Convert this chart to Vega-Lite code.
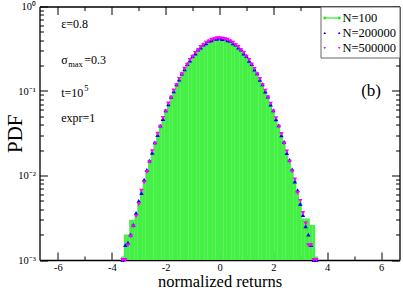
{
  "$schema": "https://vega.github.io/schema/vega-lite/v6.json",
  "width": 360,
  "height": 253.5,
  "autosize": {"type": "none"},
  "padding": {"left": 39.5, "top": 6.5, "right": 3.5, "bottom": 30},
  "background": "white",
  "config": {
    "view": {"stroke": null},
    "axis": {
      "labelFont": "Liberation Serif",
      "titleFont": "Liberation Serif",
      "titleFontWeight": "normal",
      "labelColor": "black",
      "titleColor": "black",
      "domainColor": "black",
      "tickColor": "black",
      "domainWidth": 1.3,
      "tickWidth": 1,
      "grid": false
    },
    "text": {"font": "Liberation Serif", "color": "black"}
  },
  "data": {
    "values": [
      {"x": -3.6, "g": 0.0011, "b": 0.0010, "m": 0.0010},
      {"x": -3.5, "g": 0.0020, "b": 0.0015, "m": 0.0010},
      {"x": -3.4, "g": 0.0020, "b": 0.0016, "m": 0.0015},
      {"x": -3.3, "g": 0.0030, "b": 0.0020, "m": 0.0019},
      {"x": -3.2, "g": 0.0030, "b": 0.0026, "m": 0.0025},
      {"x": -3.1, "g": 0.0036, "b": 0.0036, "m": 0.0033},
      {"x": -3.0, "g": 0.0049, "b": 0.0050, "m": 0.0046},
      {"x": -2.9, "g": 0.0066, "b": 0.0062, "m": 0.0066},
      {"x": -2.8, "g": 0.0086, "b": 0.0089, "m": 0.0083},
      {"x": -2.7, "g": 0.0113, "b": 0.0116, "m": 0.0110},
      {"x": -2.6, "g": 0.0147, "b": 0.0150, "m": 0.0145},
      {"x": -2.5, "g": 0.0191, "b": 0.0186, "m": 0.0194},
      {"x": -2.4, "g": 0.0242, "b": 0.0247, "m": 0.0238},
      {"x": -2.3, "g": 0.0307, "b": 0.0300, "m": 0.0312},
      {"x": -2.2, "g": 0.0380, "b": 0.0389, "m": 0.0377},
      {"x": -2.1, "g": 0.0475, "b": 0.0466, "m": 0.0480},
      {"x": -2.0, "g": 0.0578, "b": 0.0589, "m": 0.0572},
      {"x": -1.9, "g": 0.0705, "b": 0.0694, "m": 0.0712},
      {"x": -1.8, "g": 0.0842, "b": 0.0856, "m": 0.0836},
      {"x": -1.7, "g": 0.1007, "b": 0.0990, "m": 0.1015},
      {"x": -1.6, "g": 0.1178, "b": 0.1196, "m": 0.1170},
      {"x": -1.5, "g": 0.1382, "b": 0.1365, "m": 0.1391},
      {"x": -1.4, "g": 0.1588, "b": 0.1610, "m": 0.1580},
      {"x": -1.3, "g": 0.1822, "b": 0.1800, "m": 0.1835},
      {"x": -1.2, "g": 0.2058, "b": 0.2085, "m": 0.2046},
      {"x": -1.1, "g": 0.2312, "b": 0.2285, "m": 0.2330},
      {"x": -1.0, "g": 0.2557, "b": 0.2590, "m": 0.2545},
      {"x": -0.9, "g": 0.2812, "b": 0.2780, "m": 0.2830},
      {"x": -0.8, "g": 0.3058, "b": 0.3095, "m": 0.3040},
      {"x": -0.7, "g": 0.3302, "b": 0.3265, "m": 0.3320},
      {"x": -0.6, "g": 0.3508, "b": 0.3550, "m": 0.3490},
      {"x": -0.5, "g": 0.3712, "b": 0.3670, "m": 0.3735},
      {"x": -0.4, "g": 0.3878, "b": 0.3925, "m": 0.3860},
      {"x": -0.3, "g": 0.4022, "b": 0.3975, "m": 0.4045},
      {"x": -0.2, "g": 0.4108, "b": 0.4160, "m": 0.4090},
      {"x": -0.1, "g": 0.4182, "b": 0.4135, "m": 0.4205},
      {"x": 0.0, "g": 0.4198, "b": 0.4250, "m": 0.4180},
      {"x": 0.1, "g": 0.4178, "b": 0.4130, "m": 0.4200},
      {"x": 0.2, "g": 0.4112, "b": 0.4165, "m": 0.4095},
      {"x": 0.3, "g": 0.4018, "b": 0.3970, "m": 0.4040},
      {"x": 0.4, "g": 0.3882, "b": 0.3930, "m": 0.3865},
      {"x": 0.5, "g": 0.3708, "b": 0.3665, "m": 0.3730},
      {"x": 0.6, "g": 0.3512, "b": 0.3555, "m": 0.3495},
      {"x": 0.7, "g": 0.3298, "b": 0.3260, "m": 0.3318},
      {"x": 0.8, "g": 0.3062, "b": 0.3100, "m": 0.3045},
      {"x": 0.9, "g": 0.2808, "b": 0.2775, "m": 0.2825},
      {"x": 1.0, "g": 0.2562, "b": 0.2595, "m": 0.2550},
      {"x": 1.1, "g": 0.2308, "b": 0.2280, "m": 0.2325},
      {"x": 1.2, "g": 0.2062, "b": 0.2090, "m": 0.2050},
      {"x": 1.3, "g": 0.1818, "b": 0.1795, "m": 0.1830},
      {"x": 1.4, "g": 0.1592, "b": 0.1615, "m": 0.1585},
      {"x": 1.5, "g": 0.1378, "b": 0.1360, "m": 0.1388},
      {"x": 1.6, "g": 0.1182, "b": 0.1200, "m": 0.1175},
      {"x": 1.7, "g": 0.1003, "b": 0.0988, "m": 0.1012},
      {"x": 1.8, "g": 0.0846, "b": 0.0860, "m": 0.0838},
      {"x": 1.9, "g": 0.0701, "b": 0.0690, "m": 0.0710},
      {"x": 2.0, "g": 0.0580, "b": 0.0592, "m": 0.0574},
      {"x": 2.1, "g": 0.0471, "b": 0.0463, "m": 0.0478},
      {"x": 2.2, "g": 0.0384, "b": 0.0392, "m": 0.0379},
      {"x": 2.3, "g": 0.0305, "b": 0.0298, "m": 0.0310},
      {"x": 2.4, "g": 0.0244, "b": 0.0250, "m": 0.0240},
      {"x": 2.5, "g": 0.0189, "b": 0.0184, "m": 0.0193},
      {"x": 2.6, "g": 0.0149, "b": 0.0153, "m": 0.0146},
      {"x": 2.7, "g": 0.0115, "b": 0.0118, "m": 0.0112},
      {"x": 2.8, "g": 0.0087, "b": 0.0085, "m": 0.0090},
      {"x": 2.9, "g": 0.0064, "b": 0.0067, "m": 0.0062},
      {"x": 3.0, "g": 0.0049, "b": 0.0046, "m": 0.0050},
      {"x": 3.1, "g": 0.0031, "b": 0.0034, "m": 0.0036},
      {"x": 3.2, "g": 0.0031, "b": 0.0025, "m": 0.0027},
      {"x": 3.3, "g": 0.0031, "b": 0.0020, "m": 0.0015},
      {"x": 3.4, "g": 0.0026, "b": 0.0015, "m": 0.0015},
      {"x": 3.5, "g": 0.0026, "b": 0.0010, "m": 0.0010},
      {"x": 3.6, "g": 0.0011, "b": 0.0010, "m": 0.0010}
    ]
  },
  "layer": [
    {
      "mark": {"type": "bar", "color": "#44f044", "size": 2.9, "clip": true},
      "encoding": {
        "x": {
          "field": "x", "type": "quantitative",
          "scale": {"domain": [-6.5, 6.5], "nice": false, "zero": false},
          "axis": {
            "orient": "bottom",
            "values": [-6, -5, -4, -3, -2, -1, 0, 1, 2, 3, 4, 5, 6],
            "labelExpr": "datum.value % 2 == 0 ? '' + datum.value : ''",
            "tickSize": {"condition": {"test": "datum.value % 2 == 0", "value": -8}, "value": -4},
            "labelPadding": 10,
            "labelFontSize": 10.5,
            "title": "normalized returns",
            "titleFontSize": 16.5,
            "titlePadding": 1
          }
        },
        "y": {
          "field": "g", "type": "quantitative",
          "scale": {"type": "log", "domain": [0.001, 1], "nice": false},
          "axis": {
            "orient": "left",
            "values": [0.001, 0.002, 0.003, 0.004, 0.005, 0.006, 0.007, 0.008, 0.009, 0.01, 0.02, 0.03, 0.04, 0.05, 0.06, 0.07, 0.08, 0.09, 0.1, 0.2, 0.3, 0.4, 0.5, 0.6, 0.7, 0.8, 0.9, 1],
            "labelExpr": "datum.value == 1 ? '10⁰' : datum.value == 0.1 ? '10⁻¹' : datum.value == 0.01 ? '10⁻²' : datum.value == 0.001 ? '10⁻³' : ''",
            "tickSize": {"condition": {"test": "indexof([0.001, 0.01, 0.1, 1], datum.value) >= 0", "value": -8}, "value": -4},
            "labelPadding": 12,
            "labelFontSize": 10.5,
            "title": "PDF",
            "titleFontSize": 21,
            "titlePadding": -8
          }
        },
        "y2": {"datum": 0.001}
      }
    },
    {
      "mark": {"type": "point", "shape": "triangle-up", "filled": true, "color": "#0000ff", "size": 20, "opacity": 1},
      "encoding": {
        "x": {
          "field": "x", "type": "quantitative",
          "axis": {
            "orient": "top",
            "values": [-6, -5, -4, -3, -2, -1, 0, 1, 2, 3, 4, 5, 6],
            "labels": false,
            "tickSize": {"condition": {"test": "datum.value % 2 == 0", "value": -8}, "value": -4},
            "title": null
          }
        },
        "y": {
          "field": "b", "type": "quantitative",
          "axis": {
            "orient": "right",
            "values": [0.001, 0.002, 0.003, 0.004, 0.005, 0.006, 0.007, 0.008, 0.009, 0.01, 0.02, 0.03, 0.04, 0.05, 0.06, 0.07, 0.08, 0.09, 0.1, 0.2, 0.3, 0.4, 0.5, 0.6, 0.7, 0.8, 0.9, 1],
            "labels": false,
            "tickSize": {"condition": {"test": "indexof([0.001, 0.01, 0.1, 1], datum.value) >= 0", "value": -8}, "value": -4},
            "title": null
          }
        }
      }
    },
    {
      "mark": {"type": "point", "shape": "triangle-down", "filled": true, "color": "#ff00ff", "size": 20, "opacity": 1},
      "encoding": {
        "x": {"field": "x", "type": "quantitative", "axis": null},
        "y": {"field": "m", "type": "quantitative", "axis": null}
      }
    },
    {
      "data": {"values": []},
      "mark": {"type": "point", "filled": true, "opacity": 1},
      "encoding": {
        "color": {
          "field": "s", "type": "nominal",
          "scale": {"domain": ["N=100", "N=200000", "N=500000"], "range": ["#00ee00", "#0000ff", "#ff00ff"]},
          "legend": {
            "title": null, "orient": "top-right", "offset": 0, "padding": 3,
            "strokeColor": "#666", "fillColor": "white", "symbolSize": 289,
            "symbolStrokeWidth": 0, "labelFont": "Liberation Serif", "labelFontSize": 12.5,
            "labelColor": "black", "labelOffset": 2, "rowPadding": 0
          }
        },
        "shape": {
          "field": "s", "type": "nominal",
          "scale": {"domain": ["N=100", "N=200000", "N=500000"], "range": [
            "M-0.85,-0.06H0.85V0.06H-0.85Z M-1,-0.14H-0.74V0.14H-1Z M0.74,-0.14H1V0.14H0.74Z",
            "M-1,0.13L-0.85,-0.15L-0.7,0.13Z M0.7,0.13L0.85,-0.15L1,0.13Z",
            "M-1,-0.13L-0.85,0.15L-0.7,-0.13Z M0.7,-0.13L0.85,0.15L1,-0.13Z"
          ]},
          "legend": {
            "title": null, "orient": "top-right", "offset": 0, "padding": 3,
            "strokeColor": "#666", "fillColor": "white", "symbolSize": 289,
            "symbolStrokeWidth": 0, "labelFont": "Liberation Serif", "labelFontSize": 12.5,
            "labelColor": "black", "labelOffset": 2, "rowPadding": 0
          }
        }
      }
    },
    {
      "data": {"values": [{"label": "ε=0.8"}]},
      "mark": {"type": "text", "align": "left", "baseline": "middle", "fontSize": 12},
      "encoding": {"text": {"field": "label"}, "x": {"datum": -5.88, "axis": null}, "y": {"datum": 0.62, "axis": null}}
    },
    {
      "data": {"values": [{"label": "σ"}]},
      "mark": {"type": "text", "align": "left", "baseline": "middle", "fontSize": 12},
      "encoding": {"text": {"field": "label"}, "x": {"datum": -5.88, "axis": null}, "y": {"datum": 0.233, "axis": null}}
    },
    {
      "data": {"values": [{"label": "max"}]},
      "mark": {"type": "text", "align": "left", "baseline": "middle", "fontSize": 8.5, "dx": 7, "dy": 4},
      "encoding": {"text": {"field": "label"}, "x": {"datum": -5.88, "axis": null}, "y": {"datum": 0.233, "axis": null}}
    },
    {
      "data": {"values": [{"label": "=0.3"}]},
      "mark": {"type": "text", "align": "left", "baseline": "middle", "fontSize": 12, "dx": 23},
      "encoding": {"text": {"field": "label"}, "x": {"datum": -5.88, "axis": null}, "y": {"datum": 0.233, "axis": null}}
    },
    {
      "data": {"values": [{"label": "t=10"}]},
      "mark": {"type": "text", "align": "left", "baseline": "middle", "fontSize": 12},
      "encoding": {"text": {"field": "label"}, "x": {"datum": -5.88, "axis": null}, "y": {"datum": 0.095, "axis": null}}
    },
    {
      "data": {"values": [{"label": "5"}]},
      "mark": {"type": "text", "align": "left", "baseline": "middle", "fontSize": 8.5, "dx": 23, "dy": -5},
      "encoding": {"text": {"field": "label"}, "x": {"datum": -5.88, "axis": null}, "y": {"datum": 0.095, "axis": null}}
    },
    {
      "data": {"values": [{"label": "expr=1"}]},
      "mark": {"type": "text", "align": "left", "baseline": "middle", "fontSize": 12},
      "encoding": {"text": {"field": "label"}, "x": {"datum": -5.88, "axis": null}, "y": {"datum": 0.048, "axis": null}}
    },
    {
      "data": {"values": [{"label": "(b)"}]},
      "mark": {"type": "text", "align": "center", "baseline": "middle", "fontSize": 17},
      "encoding": {"text": {"field": "label"}, "x": {"datum": 5.63, "axis": null}, "y": {"datum": 0.1, "axis": null}}
    }
  ],
  "resolve": {"axis": {"x": "independent", "y": "independent"}}
}
